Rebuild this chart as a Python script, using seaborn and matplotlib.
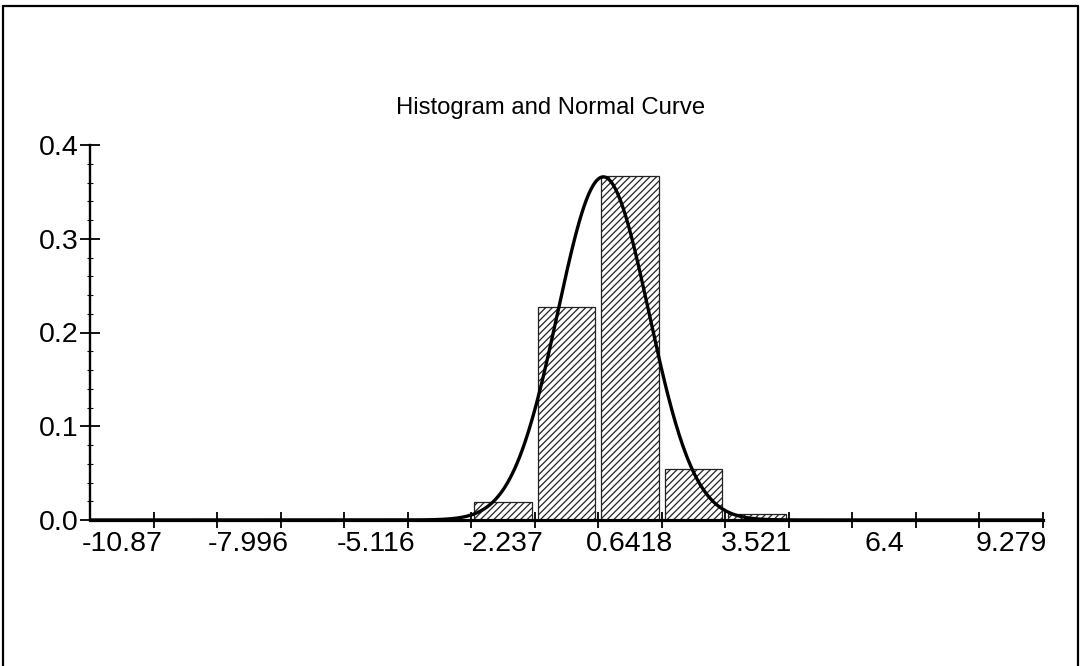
import numpy as np
import pandas as pd
import matplotlib
matplotlib.use("Agg")
import matplotlib.pyplot as plt
from matplotlib.lines import Line2D
from matplotlib.ticker import FixedLocator, MultipleLocator
import seaborn as sns

# ---- data ----
tick_labels = ["-10.87", "-7.996", "-5.116", "-2.237", "0.6418", "3.521", "6.4", "9.279"]
label_values = [-10.87, -7.996, -5.116, -2.237, 0.6418, 3.521, 6.4, 9.279]
bin_width = 1.4395
x_min = -11.59
n_bins = 15
bar_centers = [-2.237, -0.798, 0.6418, 2.081, 3.521]
bar_heights = [0.019, 0.227, 0.367, 0.054, 0.006]
curve_mean = 0.04
curve_sd = 1.03
curve_peak = 0.366
y_ticks = [0.0, 0.1, 0.2, 0.3, 0.4]
title = "Histogram and Normal Curve"

sns.set_theme(style="white")
plt.rcParams["font.family"] = ["Liberation Sans", "DejaVu Sans"]
plt.rcParams["hatch.linewidth"] = 0.9
plt.rcParams["text.color"] = "black"

fig = plt.figure(figsize=(10.88, 6.66), dpi=100)
ax = fig.add_axes([90 / 1088, 1 - 520 / 666, (1043 - 90) / 1088, (520 - 145) / 666])

edges = [x_min + bin_width * k for k in range(n_bins + 1)]
x_max = edges[-1]

df = pd.DataFrame({"x": bar_centers, "h": bar_heights})
sns.histplot(data=df, x="x", weights="h", bins=edges, stat="count",
             shrink=0.91, ax=ax, color="white", edgecolor="black",
             linewidth=0.9, alpha=1)
for p in ax.patches:
    p.set_hatch("/////")
    p.set_facecolor("white")
    p.set_edgecolor("#222222")

xs = np.linspace(x_min, x_max, 800)
ys = curve_peak * np.exp(-0.5 * ((xs - curve_mean) / curve_sd) ** 2)
ax.plot(xs, ys, color="black", linewidth=2.4)

ax.set_xlim(x_min, x_max)
ax.set_ylim(0, 0.4)
ax.set_xlabel("")
ax.set_ylabel("")

for s in ["top", "right"]:
    ax.spines[s].set_visible(False)
ax.spines["bottom"].set_linewidth(2.3)
ax.spines["left"].set_linewidth(1.7)
ax.spines["bottom"].set_color("black")
ax.spines["left"].set_color("black")

ax.xaxis.set_major_locator(FixedLocator(label_values))
ax.set_xticklabels(tick_labels)
ax.xaxis.set_minor_locator(FixedLocator(edges[1:]))
ax.tick_params(axis="x", which="major", length=0, pad=8, labelsize=20.5, colors="black")
ax.tick_params(axis="x", which="minor", direction="inout", length=12, width=1.3,
               color="black", bottom=True)

ax.set_yticks(y_ticks)
ax.set_yticklabels([f"{v:.1f}" for v in y_ticks])
ax.yaxis.set_minor_locator(MultipleLocator(0.02))
ax.tick_params(axis="y", which="major", direction="inout", length=14, width=1.3,
               pad=1, labelsize=20.5, colors="black", left=True)
ax.tick_params(axis="y", which="minor", direction="inout", length=4, width=0.8,
               color="black", left=True)

fig.text(551 / 1088, 1 - 108 / 666, title, ha="center", va="center",
         fontsize=17.2, color="black")

# outer frame
lw = 1.6
fig.add_artist(Line2D([3 / 1088, 1078 / 1088], [1 - 6 / 666, 1 - 6 / 666], color="black", lw=lw))
fig.add_artist(Line2D([3 / 1088, 3 / 1088], [0, 1 - 6 / 666], color="black", lw=lw))
fig.add_artist(Line2D([1078 / 1088, 1078 / 1088], [0, 1 - 6 / 666], color="black", lw=lw))

fig.savefig("out.png", dpi=100)
